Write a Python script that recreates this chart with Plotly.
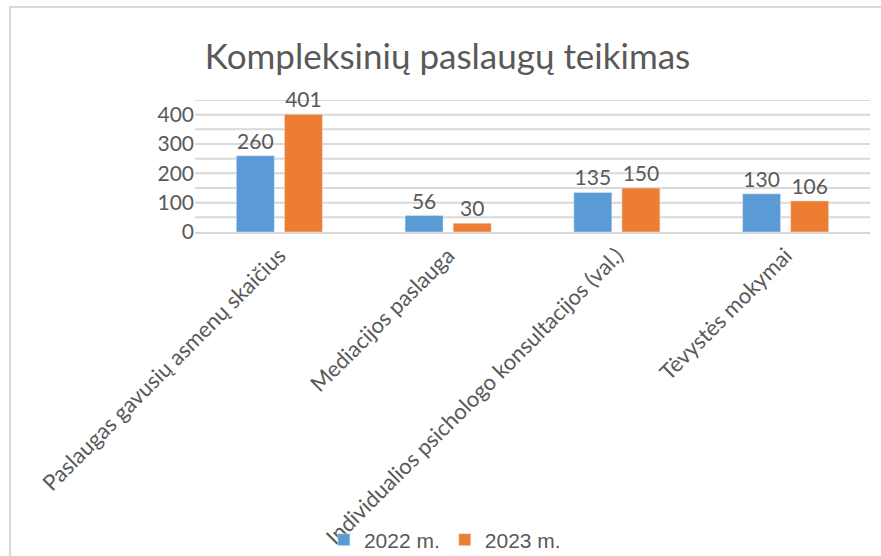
import plotly.graph_objects as go

categories = ["Paslaugas gavusių asmenų skaičius", "Mediacijos paslauga",
              "Individualios psichologo konsultacijos (val.)", "Tėvystės mokymai"]
series_2022 = [260, 56, 135, 130]
series_2023 = [401, 30, 150, 106]
series_names = ["2022 m.", "2023 m."]
title_text = "Kompleksinių paslaugų teikimas"

TXT = "#595959"
FONT = "Lato"

fig = go.Figure()
for name, vals, col in [(series_names[0], series_2022, "#5B9BD5"),
                        (series_names[1], series_2023, "#ED7D31")]:
    fig.add_trace(go.Bar(
        x=categories, y=vals, name=name, marker_color=col,
        text=[str(v) for v in vals], textposition="outside",
        textfont=dict(family=FONT, size=21, color=TXT),
        cliponaxis=False,
    ))

W, H = 881, 556
L, R, T, B = 195, 11, 100, 324
pw = W - L - R
ph = H - T - B

def px_x(x):
    return (x - L) / pw

def px_y(y):
    return (H - B - y) / ph

fig.update_layout(
    width=W, height=H,
    margin=dict(l=L, r=R, t=T, b=B, autoexpand=False),
    paper_bgcolor="white", plot_bgcolor="white",
    barmode="group", bargap=0.43, bargroupgap=0.21,
    title=dict(text=title_text, x=0.508, xref="container", xanchor="center",
               y=1 - 57 / H, yref="container", yanchor="middle",
               font=dict(family=FONT, size=35, color=TXT)),
    font=dict(family=FONT, color=TXT),
    showlegend=True,
    legend=dict(orientation="h", xref="container", yref="container",
                x=0.505, xanchor="center", y=(H - 540) / H, yanchor="middle",
                bgcolor="rgba(0,0,0,0)",
                font=dict(family="Liberation Sans", size=21, color=TXT),
                itemwidth=30, tracegroupgap=0),
    xaxis=dict(tickangle=-45, tickfont=dict(family=FONT, size=22, color=TXT),
               showline=True, linecolor="#D9D9D9", linewidth=2,
               ticks="", showgrid=False, automargin=False),
    yaxis=dict(range=[0, 450], tickvals=[0, 100, 200, 300, 400],
               tickfont=dict(family=FONT, size=21, color=TXT),
               showgrid=False, zeroline=False, showline=False, ticks="",
               automargin=False),
    shapes=[
        dict(type="line", xref="paper", yref="y", x0=0, x1=1, y0=v, y1=v,
             line=dict(color="#D9D9D9", width=2), layer="below")
        for v in range(50, 451, 50)
    ] + [
        dict(type="rect", xref="paper", yref="paper",
             x0=px_x(10), x1=px_x(900), y0=px_y(7), y1=px_y(580),
             line=dict(color="#D9D9D9", width=2), fillcolor="rgba(0,0,0,0)")
    ],
)

fig.write_html("out.html", config={"displayModeBar": False},
               post_script="document.body.style.margin='0';document.body.style.overflow='hidden';")
